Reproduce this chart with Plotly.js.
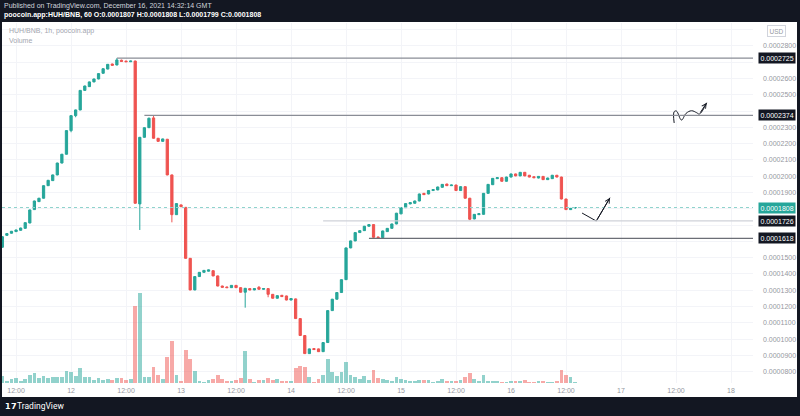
<!DOCTYPE html>
<html>
<head>
<meta charset="utf-8">
<script src="https://cdn.plot.ly/plotly-3.0.1.min.js"></script>
<style>
html,body{margin:0;padding:0;background:#131722;}
#chart{width:800px;height:416px;}
</style>
</head>
<body>
<div id="chart"></div>
<script>
// Hourly candles HUH/BNB, first candle 2021-12-11 09:00 UTC. Prices in units of 1e-7 BNB.
const firstCandle = Date.UTC(2021, 11, 11, 9);
const opens = [1564,1637,1650,1660,1668,1680,1713,1795,1844,1865,1942,1973,2008,2081,2135,2280,2372,2407,2527,2550,2579,2597,
2632,2658,2689,2683,2712,2707,2703,2707,1830,2239,2298,2358,2233,2214,2227,2008,1764,1824,1809,1496,1302,
1384,1410,1417,1420,1388,1326,1320,1316,1330,1316,1288,1310,1302,1318,1306,1310,1275,1251,1269,1265,
1240,1247,1126,1022,911,942,940,923,979,1175,1245,1286,1365,1560,1603,1654,1666,1693,1703,1627,1623,
1660,1680,1707,1769,1807,1830,1834,1848,1895,1891,1912,1916,1932,1952,1942,1946,1912,1936,1865,1738,
1764,1766,1895,1948,1985,1991,1969,1995,2014,2002,2024,2006,1997,1989,1999,1979,1985,2006,1995,1860,1795,1807];
const highs = [1632,1650,1664,1672,1684,1717,1795,1850,1867,1944,1977,2010,2083,2137,2282,2374,2409,2529,2556,2581,2599,2632,
2662,2689,2691,2725,2716,2709,2709,2710,2241,2300,2360,2374,2235,2231,2229,2010,1834,1826,1811,1498,1386,
1412,1424,1427,1422,1390,1328,1322,1332,1332,1318,1314,1312,1312,1326,1312,1312,1277,1269,1271,1267,
1251,1249,1128,1024,942,944,942,981,1177,1247,1288,1367,1562,1605,1656,1668,1695,1705,1705,1629,1666,
1682,1709,1775,1809,1834,1840,1850,1893,1897,1914,1920,1936,1952,1954,1948,1948,1938,1938,1867,1768,
1772,1897,1952,1989,1993,1993,1997,2016,2016,2026,2026,2008,1999,2001,2001,1991,2008,2008,1997,1862,1805,1808];
const lows = [1560,1635,1648,1658,1666,1678,1711,1793,1842,1863,1940,1971,2006,2079,2133,2270,2362,2405,2525,2548,2577,2595,
2630,2656,2679,2681,2703,2701,2701,1832,1670,2237,2296,2231,2212,2212,2006,1717,1762,1811,1494,1300,1300,
1382,1408,1415,1386,1324,1316,1314,1314,1314,1286,1193,1300,1300,1304,1304,1257,1249,1249,1259,1238,
1238,1124,1020,909,909,934,921,921,977,1173,1243,1284,1363,1558,1601,1652,1664,1691,1618,1621,1621,
1658,1678,1705,1767,1805,1828,1832,1846,1885,1889,1910,1914,1930,1940,1940,1910,1910,1863,1730,1736,
1762,1764,1893,1946,1983,1967,1967,1993,2000,2000,2000,1993,1989,1987,1977,1977,1983,1993,1858,1793,1793,1799];
const closes = [1629,1648,1662,1670,1682,1715,1793,1848,1865,1942,1975,2008,2081,2135,2280,2372,2407,2527,2554,2579,2597,2630,
2660,2687,2681,2714,2705,2703,2707,1834,2239,2298,2356,2233,2214,2229,2008,1764,1832,1813,1496,1302,1384,
1410,1422,1425,1388,1326,1318,1316,1330,1316,1288,1312,1302,1310,1306,1310,1275,1251,1267,1261,1240,
1249,1126,1022,911,940,936,923,979,1175,1245,1286,1365,1560,1603,1654,1666,1693,1703,1625,1623,1664,
1680,1707,1773,1807,1832,1838,1848,1891,1887,1912,1918,1934,1950,1942,1946,1912,1936,1865,1736,1766,
1770,1895,1950,1987,1991,1969,1995,2014,2002,2024,2002,1995,1991,1999,1979,1989,2006,1995,1860,1795,1803,1808];
const volumes = [22,7,12,15,7,12,25,29,15,22,16,17,18,17,37,32,22,45,19,19,10,14,
9,12,9,15,14,9,12,232,270,19,17,47,25,13,77,127,25,7,100,73,35,
7,4,9,12,25,12,5,7,9,14,97,12,4,8,9,14,9,12,7,5,
5,45,52,49,19,4,12,24,72,34,22,32,64,25,19,12,22,9,40,14,12,
9,7,17,13,9,7,7,9,9,9,4,7,12,7,5,5,9,17,29,11,
7,25,7,7,5,4,4,7,7,7,10,4,4,7,6,4,4,7,40,24,19,3];

// Time axis ticks
const tickTimes = ['2021-12-11 12:00','2021-12-12 00:00','2021-12-12 12:00','2021-12-13 00:00','2021-12-13 12:00',
 '2021-12-14 00:00','2021-12-14 12:00','2021-12-15 00:00','2021-12-15 12:00','2021-12-16 00:00','2021-12-16 12:00',
 '2021-12-17 00:00','2021-12-17 12:00','2021-12-18 00:00'];
const tickTexts = ['12:00','12','12:00','13','12:00','14','12:00','15','12:00','16','12:00','17','12:00','18'];
// Price axis ticks (labels hidden behind the price boxes are left blank)
const priceTicks = [0.00008,0.00009,0.0001,0.00011,0.00012,0.00013,0.00014,0.00015,0.00016,0.00017,0.00018,
 0.00019,0.0002,0.00021,0.00022,0.00023,0.00024,0.00025,0.00026,0.00027,0.00028,0.00029];
const priceTickText = ['0.0000800','0.0000900','0.0001000','0.0001100','0.0001200','0.0001300','0.0001400','0.0001500',
 '','','','0.0001900','0.0002000','0.0002100','0.0002200','0.0002300','','0.0002500','0.0002600','','0.0002800',''];

// Horizontal price lines (start time, price, colour)
const levelStarts = ['2021-12-12 10:00','2021-12-12 16:00','2021-12-14 07:00','2021-12-14 17:00'];
const levelPrices = [0.0002725,0.0002374,0.0001726,0.0001618];
const levelLabels = ['0.0002725','0.0002374','0.0001726','0.0001618'];
const levelColors = ['#8a8d96','#8a8d96','#cfd2d9','#6b6e76'];
const lastPrice = 0.0001808;

// Hand drawings
const squiggleX = ['2021-12-17 11:36','2021-12-17 11:36','2021-12-17 12:06','2021-12-17 13:12','2021-12-17 14:12','2021-12-17 15:24','2021-12-17 16:30','2021-12-17 17:06','2021-12-17 18:42'];
const squiggleY = [0.0002327,0.0002396,0.0002400,0.0002345,0.0002386,0.0002402,0.0002390,0.0002382,0.0002451];
const arrowX = ['2021-12-16 15:30','2021-12-16 18:36','2021-12-16 21:36'];
const arrowY = [0.0001774,0.0001725,0.0001868];

const UNIT = 1e-7;
const times = opens.map((_, i) => new Date(firstCandle + i * 3600000).toISOString().slice(0, 16).replace('T', ' '));
const up = '#26a69a', down = '#ef5350';
const volColors = opens.map((o, i) => closes[i] >= o ? 'rgba(38,166,154,0.5)' : 'rgba(239,83,80,0.5)');

const FONT = 'Liberation Sans, Arial, sans-serif';

const traces = [
  {
    type: 'bar', x: times, y: volumes, yaxis: 'y2', marker: {color: volColors, line: {width: 0}},
    width: 3600000 * 0.82, hoverinfo: 'skip', showlegend: false
  },
  {
    type: 'candlestick', x: times,
    open: opens.map(v => v * UNIT), high: highs.map(v => v * UNIT),
    low: lows.map(v => v * UNIT), close: closes.map(v => v * UNIT),
    increasing: {line: {color: up, width: 1}, fillcolor: up},
    decreasing: {line: {color: down, width: 1}, fillcolor: down},
    whiskerwidth: 0, showlegend: false
  },
  {
    type: 'scatter', mode: 'lines', x: squiggleX, y: squiggleY,
    line: {color: '#131722', width: 1, shape: 'spline', smoothing: 1.1}, hoverinfo: 'skip', showlegend: false
  },
  {
    type: 'scatter', mode: 'lines', x: arrowX, y: arrowY,
    line: {color: '#131722', width: 1}, hoverinfo: 'skip', showlegend: false
  }
];

const shapes = [
  {type: 'rect', xref: 'paper', yref: 'paper', x0: 0, x1: 1.0586, y0: -0.039, y1: 1.003,
   fillcolor: '#ffffff', line: {width: 0}, layer: 'below'},
  {type: 'line', xref: 'paper', yref: 'y', x0: 0, x1: 1, y0: lastPrice, y1: lastPrice,
   line: {color: '#8fd3cc', width: 1, dash: 'dot'}}
];
levelPrices.forEach((p, k) => {
  shapes.push({type: 'line', xref: 'x', yref: 'y', x0: levelStarts[k], x1: '2021-12-19 00:00', y0: p, y1: p,
    line: {color: levelColors[k], width: 1.2}});
});

const annotations = [
  {xref: 'paper', yref: 'paper', x: 0, y: 1, xanchor: 'left', yanchor: 'middle', xshift: 0, yshift: 17,
   text: 'Published on TradingView.com, December 16, 2021 14:32:14 GMT', showarrow: false,
   font: {family: FONT, size: 7, color: '#d1d4dc'}},
  {xref: 'paper', yref: 'paper', x: 0, y: 1, xanchor: 'left', yanchor: 'middle', xshift: 0, yshift: 8,
   text: '<b>poocoin.app:HUH/BNB, 60 O:0.0001807 H:0.0001808 L:0.0001799 C:0.0001808</b>', showarrow: false,
   font: {family: FONT, size: 7, color: '#ffffff'}},
  {xref: 'paper', yref: 'paper', x: 0, y: 1, xanchor: 'left', yanchor: 'middle', xshift: 5, yshift: -8,
   text: 'HUH/BNB, 1h, poocoin.app', showarrow: false, font: {family: FONT, size: 7, color: '#a3a6af'}},
  {xref: 'paper', yref: 'paper', x: 0, y: 1, xanchor: 'left', yanchor: 'middle', xshift: 5, yshift: -17,
   text: 'Volume', showarrow: false, font: {family: FONT, size: 7, color: '#a3a6af'}},
  {xref: 'paper', yref: 'paper', x: 1, y: 1, xanchor: 'center', yanchor: 'middle', xshift: 23, yshift: -7.5,
   text: 'USD', showarrow: false, bgcolor: '#ffffff', bordercolor: '#d1d4dc', borderwidth: 1, borderpad: 1.5,
   font: {family: FONT, size: 6.5, color: '#9598a1'}},
  {xref: 'paper', yref: 'y', x: 1, y: lastPrice, xanchor: 'left', yanchor: 'middle', xshift: 5,
   text: '0.0001808', showarrow: false, bgcolor: up, borderpad: 1.5,
   font: {family: FONT, size: 7, color: '#ffffff'}},
  {xref: 'paper', yref: 'paper', x: 0, y: 0, xanchor: 'left', yanchor: 'middle', xshift: 1, yshift: -23,
   text: '<b>𝟭𝟳</b>', showarrow: false, font: {family: FONT, size: 8, color: '#ffffff'}},
  {xref: 'paper', yref: 'paper', x: 0, y: 0, xanchor: 'left', yanchor: 'middle', xshift: 13, yshift: -23,
   text: 'TradingView', showarrow: false, font: {family: 'Roboto, ' + FONT, size: 8.5, color: '#ffffff'}},
  // arrow heads of the drawings
  {xref: 'x', yref: 'y', axref: 'x', ayref: 'y', x: squiggleX[8], y: squiggleY[8], ax: squiggleX[7], ay: squiggleY[7],
   text: '', showarrow: true, arrowhead: 5, arrowsize: 0.9, arrowwidth: 1, arrowcolor: '#131722', standoff: 0},
  {xref: 'x', yref: 'y', axref: 'x', ayref: 'y', x: arrowX[2], y: arrowY[2], ax: arrowX[1], ay: arrowY[1],
   text: '', showarrow: true, arrowhead: 5, arrowsize: 0.9, arrowwidth: 1, arrowcolor: '#131722', standoff: 0}
];
levelPrices.forEach((p, k) => {
  annotations.push({xref: 'paper', yref: 'y', x: 1, y: p, xanchor: 'left', yanchor: 'middle', xshift: 5,
    text: levelLabels[k], showarrow: false, bgcolor: '#131722', borderpad: 1.5,
    font: {family: FONT, size: 7, color: '#ffffff'}});
});

const layout = {
  width: 800, height: 416,
  margin: {l: 2, r: 47, t: 23, b: 33, pad: 0},
  paper_bgcolor: '#131722', plot_bgcolor: '#ffffff',
  font: {family: FONT, size: 7, color: '#9598a1'},
  showlegend: false, bargap: 0, hovermode: false,
  xaxis: {
    type: 'date', range: ['2021-12-11 08:56', '2021-12-18 04:48'],
    tickmode: 'array', tickvals: tickTimes, ticktext: tickTexts,
    tickfont: {family: FONT, size: 7, color: '#9598a1'},
    showgrid: true, gridcolor: '#f3f4f8', gridwidth: 1, zeroline: false, showline: false,
    ticks: '', ticklabelstandoff: 2, rangeslider: {visible: false}, fixedrange: true
  },
  yaxis: {
    side: 'right', range: [0.00007306, 0.00029407],
    tickmode: 'array', tickvals: priceTicks, ticktext: priceTickText,
    tickfont: {family: FONT, size: 7, color: '#9598a1'},
    showgrid: true, gridcolor: '#f3f4f8', gridwidth: 1, zeroline: false, showline: false,
    ticks: '', ticklabelstandoff: 9, fixedrange: true
  },
  yaxis2: {overlaying: 'y', range: [0, 1080], visible: false, fixedrange: true},
  shapes: shapes,
  annotations: annotations
};

Plotly.newPlot('chart', traces, layout, {displayModeBar: false, staticPlot: true});
</script>
</body>
</html>
